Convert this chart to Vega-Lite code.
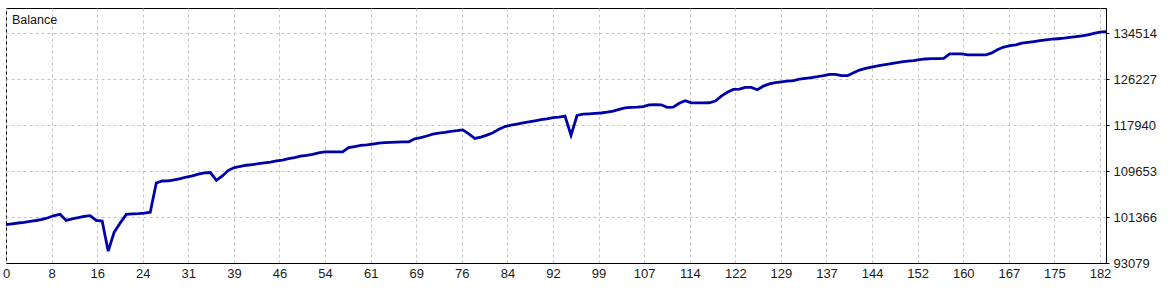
{
  "$schema": "https://vega.github.io/schema/vega-lite/v6.json",
  "width": 1100,
  "height": 255,
  "autosize": {"type": "none"},
  "padding": {"left": 6, "top": 8, "right": 64, "bottom": 25},
  "background": "white",
  "title": {"text": "Balance", "anchor": "start", "frame": "group", "orient": "top", "baseline": "top", "offset": -18, "dx": 6, "fontSize": 12.5, "font": "Liberation Sans", "fontWeight": "normal", "color": "#111111"},
  "config": {"view": {"stroke": "black", "strokeWidth": 1}},
  "data": {"values": [
    {"trade": 0, "balance": 100000}, {"trade": 1, "balance": 100150}, {"trade": 2, "balance": 100300}, {"trade": 3, "balance": 100420},
    {"trade": 4, "balance": 100600}, {"trade": 5, "balance": 100750}, {"trade": 6, "balance": 100950}, {"trade": 7, "balance": 101250},
    {"trade": 8, "balance": 101650}, {"trade": 9, "balance": 101854}, {"trade": 10, "balance": 100769}, {"trade": 11, "balance": 101050},
    {"trade": 12, "balance": 101250}, {"trade": 13, "balance": 101500}, {"trade": 14, "balance": 101620}, {"trade": 15, "balance": 100769},
    {"trade": 16, "balance": 100650}, {"trade": 17, "balance": 95214}, {"trade": 18, "balance": 98652}, {"trade": 19, "balance": 100281},
    {"trade": 20, "balance": 101854}, {"trade": 21, "balance": 101950}, {"trade": 22, "balance": 102000}, {"trade": 23, "balance": 102090},
    {"trade": 24, "balance": 102250}, {"trade": 25, "balance": 107517}, {"trade": 26, "balance": 107880}, {"trade": 27, "balance": 107900},
    {"trade": 28, "balance": 108100}, {"trade": 29, "balance": 108314}, {"trade": 30, "balance": 108600}, {"trade": 31, "balance": 108800},
    {"trade": 32, "balance": 109100}, {"trade": 33, "balance": 109327}, {"trade": 34, "balance": 109400}, {"trade": 35, "balance": 108007},
    {"trade": 36, "balance": 108784}, {"trade": 37, "balance": 109800}, {"trade": 38, "balance": 110300}, {"trade": 39, "balance": 110500},
    {"trade": 40, "balance": 110720}, {"trade": 41, "balance": 110850}, {"trade": 42, "balance": 111000}, {"trade": 43, "balance": 111150},
    {"trade": 44, "balance": 111300}, {"trade": 45, "balance": 111500}, {"trade": 46, "balance": 111650}, {"trade": 47, "balance": 111900},
    {"trade": 48, "balance": 112100}, {"trade": 49, "balance": 112349}, {"trade": 50, "balance": 112500}, {"trade": 51, "balance": 112700},
    {"trade": 52, "balance": 112950}, {"trade": 53, "balance": 113127}, {"trade": 54, "balance": 113130}, {"trade": 55, "balance": 113140},
    {"trade": 56, "balance": 113150}, {"trade": 57, "balance": 113923}, {"trade": 58, "balance": 114100}, {"trade": 59, "balance": 114300},
    {"trade": 60, "balance": 114400}, {"trade": 61, "balance": 114550}, {"trade": 62, "balance": 114700}, {"trade": 63, "balance": 114800},
    {"trade": 64, "balance": 114850}, {"trade": 65, "balance": 114900}, {"trade": 66, "balance": 114930}, {"trade": 67, "balance": 114940},
    {"trade": 68, "balance": 115500}, {"trade": 69, "balance": 115700}, {"trade": 70, "balance": 116000}, {"trade": 71, "balance": 116350},
    {"trade": 72, "balance": 116500}, {"trade": 73, "balance": 116650}, {"trade": 74, "balance": 116850}, {"trade": 75, "balance": 116950},
    {"trade": 76, "balance": 117100}, {"trade": 77, "balance": 116400}, {"trade": 78, "balance": 115551}, {"trade": 79, "balance": 115800},
    {"trade": 80, "balance": 116150}, {"trade": 81, "balance": 116600}, {"trade": 82, "balance": 117200}, {"trade": 83, "balance": 117700},
    {"trade": 84, "balance": 117958}, {"trade": 85, "balance": 118150}, {"trade": 86, "balance": 118350}, {"trade": 87, "balance": 118550},
    {"trade": 88, "balance": 118750}, {"trade": 89, "balance": 118950}, {"trade": 90, "balance": 119100}, {"trade": 91, "balance": 119300},
    {"trade": 92, "balance": 119400}, {"trade": 93, "balance": 119600}, {"trade": 94, "balance": 116148}, {"trade": 95, "balance": 119700},
    {"trade": 96, "balance": 119948}, {"trade": 97, "balance": 120000}, {"trade": 98, "balance": 120075}, {"trade": 99, "balance": 120150},
    {"trade": 100, "balance": 120300}, {"trade": 101, "balance": 120500}, {"trade": 102, "balance": 120800}, {"trade": 103, "balance": 121090},
    {"trade": 104, "balance": 121150}, {"trade": 105, "balance": 121200}, {"trade": 106, "balance": 121300}, {"trade": 107, "balance": 121632},
    {"trade": 108, "balance": 121640}, {"trade": 109, "balance": 121632}, {"trade": 110, "balance": 121161}, {"trade": 111, "balance": 121200},
    {"trade": 112, "balance": 121900}, {"trade": 113, "balance": 122355}, {"trade": 114, "balance": 121993}, {"trade": 115, "balance": 121993},
    {"trade": 116, "balance": 121993}, {"trade": 117, "balance": 122000}, {"trade": 118, "balance": 122300}, {"trade": 119, "balance": 123200},
    {"trade": 120, "balance": 123900}, {"trade": 121, "balance": 124400}, {"trade": 122, "balance": 124472}, {"trade": 123, "balance": 124780},
    {"trade": 124, "balance": 124780}, {"trade": 125, "balance": 124350}, {"trade": 126, "balance": 125000}, {"trade": 127, "balance": 125400},
    {"trade": 128, "balance": 125612}, {"trade": 129, "balance": 125750}, {"trade": 130, "balance": 125900}, {"trade": 131, "balance": 125974},
    {"trade": 132, "balance": 126250}, {"trade": 133, "balance": 126408}, {"trade": 134, "balance": 126550}, {"trade": 135, "balance": 126697},
    {"trade": 136, "balance": 126900}, {"trade": 137, "balance": 127132}, {"trade": 138, "balance": 127132}, {"trade": 139, "balance": 126878},
    {"trade": 140, "balance": 126878}, {"trade": 141, "balance": 127400}, {"trade": 142, "balance": 127900}, {"trade": 143, "balance": 128217},
    {"trade": 144, "balance": 128450}, {"trade": 145, "balance": 128633}, {"trade": 146, "balance": 128850}, {"trade": 147, "balance": 128995},
    {"trade": 148, "balance": 129200}, {"trade": 149, "balance": 129357}, {"trade": 150, "balance": 129500}, {"trade": 151, "balance": 129593},
    {"trade": 152, "balance": 129800}, {"trade": 153, "balance": 129900}, {"trade": 154, "balance": 129950}, {"trade": 155, "balance": 129950},
    {"trade": 156, "balance": 130000}, {"trade": 157, "balance": 130805}, {"trade": 158, "balance": 130805}, {"trade": 159, "balance": 130805},
    {"trade": 160, "balance": 130624}, {"trade": 161, "balance": 130624}, {"trade": 162, "balance": 130624}, {"trade": 163, "balance": 130624},
    {"trade": 164, "balance": 131000}, {"trade": 165, "balance": 131600}, {"trade": 166, "balance": 132050}, {"trade": 167, "balance": 132300},
    {"trade": 168, "balance": 132450}, {"trade": 169, "balance": 132750}, {"trade": 170, "balance": 132900}, {"trade": 171, "balance": 133050},
    {"trade": 172, "balance": 133211}, {"trade": 173, "balance": 133350}, {"trade": 174, "balance": 133465}, {"trade": 175, "balance": 133550},
    {"trade": 176, "balance": 133650}, {"trade": 177, "balance": 133800}, {"trade": 178, "balance": 133935}, {"trade": 179, "balance": 134050},
    {"trade": 180, "balance": 134243}, {"trade": 181, "balance": 134500}, {"trade": 182, "balance": 134731}, {"trade": 183, "balance": 134840}
  ]},
  "mark": {"type": "line", "color": "#0000a8", "strokeWidth": 2.8, "interpolate": "linear", "clip": true},
  "encoding": {
    "x": {
      "field": "trade", "type": "quantitative",
      "scale": {"domain": [0, 183], "nice": false, "zero": false},
      "axis": {
        "title": null,
        "values": [0, 7.58333, 15.16667, 22.75, 30.33333, 37.91667, 45.5, 53.08333, 60.66667, 68.25, 75.83333, 83.41667, 91, 98.58333, 106.16667, 113.75, 121.33333, 128.91667, 136.5, 144.08333, 151.66667, 159.25, 166.83333, 174.41667, 182],
        "labelExpr": "['0','8','16','24','31','39','46','54','61','69','76','84','92','99','107','114','122','129','137','144','152','160','167','175','182'][round(datum.value/7.583333)]",
        "grid": true, "gridColor": "#c4c4c4", "gridDash": [3, 3], "gridWidth": 1,
        "domain": true, "domainColor": "black", "domainWidth": 1,
        "ticks": false,
        "labelFont": "Liberation Sans", "labelFontSize": 13, "labelColor": "#1a1a1a",
        "labelPadding": 4, "labelOverlap": false, "labelFlush": false, "labelBound": false,
        "encode": {"labels": {"update": {"align": {"signal": "datum.value < 1 ? 'left' : 'right'"}, "dx": {"signal": "datum.value < 1 ? 1 : 0"}}}}
      }
    },
    "y": {
      "field": "balance", "type": "quantitative",
      "scale": {"domain": [93079, 139100], "nice": false, "zero": false},
      "axis": {
        "title": null, "orient": "right", "format": "d",
        "values": [93079, 101366, 109653, 117940, 126227, 134514],
        "grid": true, "gridColor": "#c4c4c4", "gridDash": [3, 3], "gridWidth": 1,
        "domain": true, "domainColor": "black", "domainWidth": 1,
        "ticks": true, "tickSize": 3, "tickColor": "black",
        "labelFont": "Liberation Sans", "labelFontSize": 13, "labelColor": "#1a1a1a",
        "labelPadding": 4, "labelOverlap": false, "labelFlush": false, "labelBound": false,
        "labelBaseline": "middle",
        "encode": {"labels": {"update": {"dy": {"signal": "datum.value < 94000 ? -2 : 0"}}}}
      }
    }
  }
}
